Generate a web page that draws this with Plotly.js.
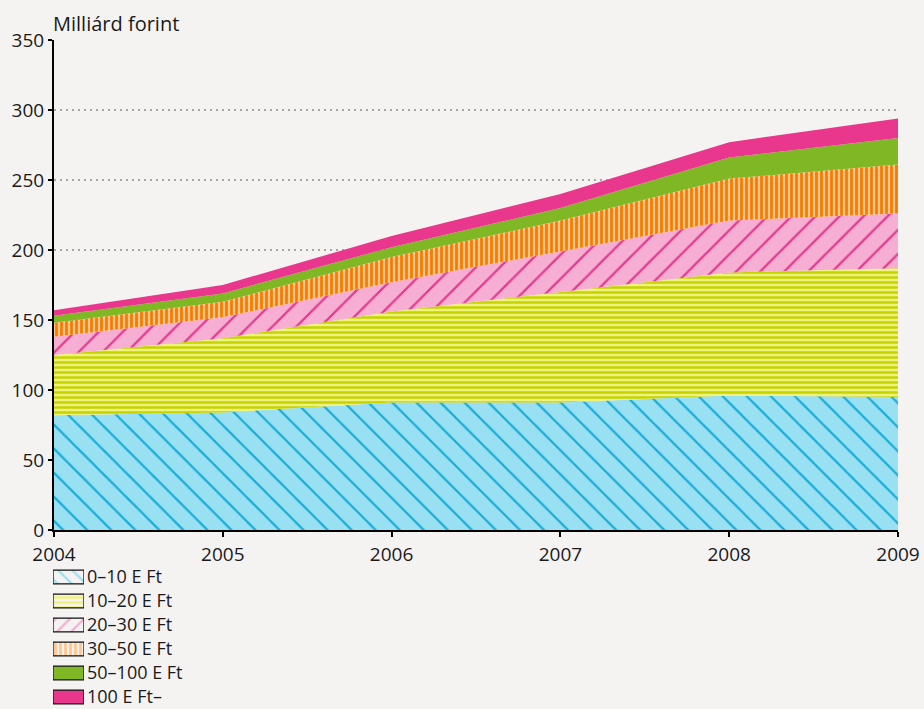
<!DOCTYPE html>
<html>
<head>
<meta charset="utf-8">
<script src="https://cdn.plot.ly/plotly-3.0.1.min.js"></script>
<style>
  html, body { margin: 0; padding: 0; background: #f4f3f1; }
  #chart { width: 924px; height: 709px; }
</style>
</head>
<body>
<div id="chart"></div>
<script>
const years = [2004, 2005, 2006, 2007, 2008, 2009];
const seriesNames = ["0–10 E Ft", "10–20 E Ft", "20–30 E Ft", "30–50 E Ft", "50–100 E Ft", "100 E Ft–"];
const s0_10 = [82, 84, 91, 91, 96, 95];
const s10_20 = [43, 53, 65, 79, 88, 92];
const s20_30 = [13, 15, 21, 29, 37, 39];
const s30_50 = [10, 11, 18, 22, 30, 35];
const s50_100 = [5, 6, 7, 9, 15, 19];
const s100 = [4, 6, 8, 10, 11, 14];
const yTicks = [0, 50, 100, 150, 200, 250, 300, 350];

const values = [s0_10, s10_20, s20_30, s30_50, s50_100, s100];
const styles = [
  {bg: "#9ae0f3", fg: "#17acd8", shape: "\\", size: 17, solidity: 0.13},
  {bg: "#eef27e", fg: "#c6d300", shape: "-", size: 5, solidity: 0.5},
  {bg: "#f6aed2", fg: "#e5388c", shape: "/", size: 17, solidity: 0.13},
  {bg: "#ffc68e", fg: "#f57c00", shape: "|", size: 5, solidity: 0.55},
  {bg: "#80b825", fg: "#80b825", shape: "", size: 8, solidity: 0.3},
  {bg: "#e8378c", fg: "#e8378c", shape: "", size: 8, solidity: 0.3}
];

const traces = values.map((v, i) => {
  const st = styles[i];
  const t = {
    x: years, y: v, name: seriesNames[i], type: "scatter", mode: "none",
    stackgroup: "one", fillcolor: st.bg, hoverinfo: "skip", showlegend: false,
    xaxis: "x", yaxis: "y"
  };
  if (st.shape) {
    t.fillpattern = {shape: st.shape, bgcolor: st.bg, fgcolor: st.fg, size: st.size, solidity: st.solidity, fgopacity: 1};
  }
  return t;
});

// Legend drawn as a small patterned swatch column (one swatch per series)
const legendRows = seriesNames.map((_, i) => i);
traces.push({
  type: "bar", orientation: "h", xaxis: "x2", yaxis: "y2",
  y: legendRows, x: seriesNames.map(() => 1), base: 0, width: 0.57,
  hoverinfo: "skip", showlegend: false,
  marker: {
    color: styles.map(s => s.bg),
    line: {color: "#111", width: 1.3},
    pattern: {
      shape: styles.map(s => s.shape),
      bgcolor: styles.map(s => s.bg),
      fgcolor: styles.map(s => s.fg),
      size: styles.map(s => Math.min(s.size, 10)),
      solidity: styles.map(s => Math.max(s.solidity, 0.22)),
      fgopacity: 1
    }
  }
});

const FIG_H = 709, TOP = 40, L = 40, R = 26, W = 924;
const plotH = FIG_H - TOP;       // bottom margin 0
const plotW = W - L - R;
const fx = px => (px - L) / plotW;
const fy = py => (FIG_H - py) / plotH;

const rowStep = 24;
const legTop = 577 - rowStep / 2;
const legUnits = (FIG_H - legTop) / rowStep;

const layout = {
  width: 924, height: 709,
  paper_bgcolor: "#f4f3f1", plot_bgcolor: "rgba(0,0,0,0)",
  margin: {l: L, r: R, t: TOP, b: 0},
  font: {family: "Open Sans, DejaVu Sans, sans-serif", size: 19, color: "#1a1a1a"},
  showlegend: false,
  bargap: 0,
  xaxis: {
    domain: [fx(54), fx(898)], anchor: "y",
    range: [2004, 2009], tickvals: years, ticktext: years.map(String),
    showgrid: false, zeroline: false, showline: true, linecolor: "#000", linewidth: 2,
    ticks: "outside", ticklen: 5, tickwidth: 2, tickcolor: "#000",
    tickfont: {size: 19}, ticklabelstandoff: 1
  },
  yaxis: {
    domain: [fy(530), 1], anchor: "x",
    range: [0, 350], tickvals: yTicks, showgrid: true, gridcolor: "#a6a6a6",
    griddash: "2px,4px", gridwidth: 2, zeroline: false,
    showline: true, linecolor: "#000", linewidth: 2,
    ticks: "outside", ticklen: 4, tickwidth: 2, tickcolor: "#000",
    tickfont: {size: 19}
  },
  xaxis2: {
    domain: [fx(53), fx(84)], anchor: "y2", range: [0, 1],
    visible: false, fixedrange: true
  },
  yaxis2: {
    domain: [0, fy(legTop)], anchor: "x2", side: "right",
    range: [legUnits - 0.5, -0.5],
    tickvals: legendRows, ticktext: seriesNames,
    showgrid: false, zeroline: false, showline: false, ticks: "",
    ticklabelstandoff: 2, ticklabeloverflow: "allow",
    tickfont: {size: 18, color: "#1a1a1a"}
  },
  annotations: [{
    text: "Milliárd forint", xref: "paper", yref: "paper", x: fx(51), y: 1,
    xanchor: "left", yanchor: "middle", yshift: 17, showarrow: false,
    font: {size: 20}
  }]
};

Plotly.newPlot("chart", traces, layout, {displayModeBar: false, staticPlot: true});
</script>
</body>
</html>
